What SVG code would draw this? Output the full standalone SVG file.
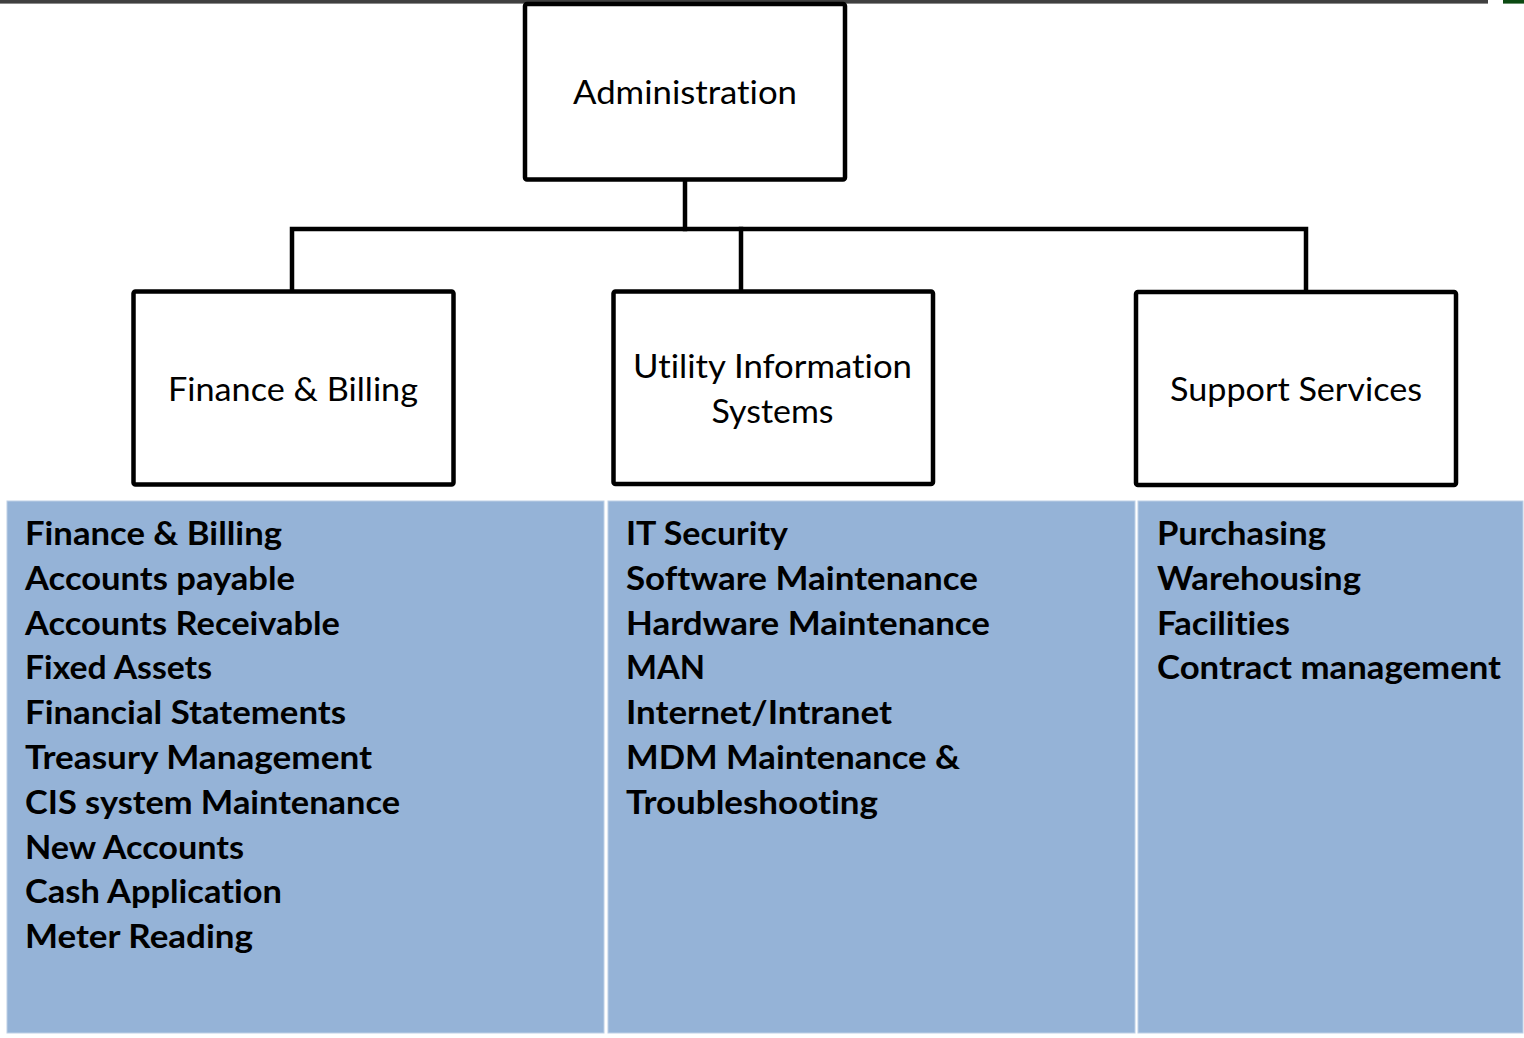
<svg xmlns="http://www.w3.org/2000/svg" width="1524" height="1038" viewBox="0 0 1524 1038">
  <style>
    .box { fill: #ffffff; stroke: #000000; stroke-width: 4.5; }
    .wire { fill: none; stroke: #000000; stroke-width: 4.5; stroke-linecap: square; }
    .title { font-family: Lato, "Liberation Sans", sans-serif; font-size: 32px; fill: #000000; text-anchor: middle; font-variant-ligatures: none; }
    .panel { fill: #95b3d7; stroke: #bdd0e6; stroke-width: 1; }
    .item { font-family: Lato, "Liberation Sans", sans-serif; font-weight: bold; font-size: 32px; fill: #000000; font-variant-ligatures: none; }
  </style>

  <!-- header rule -->
  <rect x="0" y="0" width="1488" height="3.6" fill="#404040"/>
  <rect x="1503" y="0" width="21" height="3.6" fill="#0b4a12"/>

  <!-- duty panels under each department -->
  <g id="panels">
    <rect class="panel" x="7" y="501" width="597" height="532"/>
    <rect class="panel" x="608" y="501" width="527" height="532"/>
    <rect class="panel" x="1138" y="501" width="385" height="532"/>
  </g>

  <!-- org chart connectors -->
  <g id="connectors">
    <path class="wire" d="M685 181 V229"/>
    <path class="wire" d="M292 290 V229 H1306 V290"/>
    <path class="wire" d="M741 229 V290"/>
  </g>

  <g id="node-administration">
    <rect class="box" x="525" y="4" width="320" height="175.5" rx="2"/>
    <text class="title" x="685" y="103.5" textLength="224" lengthAdjust="spacingAndGlyphs">Administration</text>
  </g>

  <g id="node-finance-billing">
    <rect class="box" x="133.5" y="291.5" width="320" height="193" rx="2"/>
    <text class="title" x="293" y="401" textLength="250" lengthAdjust="spacingAndGlyphs">Finance &amp; Billing</text>
  </g>

  <g id="node-utility-information-systems">
    <rect class="box" x="613.5" y="291.5" width="319.5" height="192.5" rx="2"/>
    <text class="title" x="772.5" y="378" textLength="279" lengthAdjust="spacingAndGlyphs">Utility Information</text>
    <text class="title" x="772.5" y="423" textLength="122" lengthAdjust="spacingAndGlyphs">Systems</text>
  </g>

  <g id="node-support-services">
    <rect class="box" x="1136" y="292" width="320" height="193" rx="2"/>
    <text class="title" x="1296" y="401" textLength="252" lengthAdjust="spacingAndGlyphs">Support Services</text>
  </g>

  <!-- duty lists -->
  <g id="list-finance-billing">
    <text class="item" x="25" y="545" textLength="257" lengthAdjust="spacingAndGlyphs">Finance &amp; Billing</text>
    <text class="item" x="25" y="589.8" textLength="270" lengthAdjust="spacingAndGlyphs">Accounts payable</text>
    <text class="item" x="25" y="634.6" textLength="315" lengthAdjust="spacingAndGlyphs">Accounts Receivable</text>
    <text class="item" x="25" y="679.4" textLength="187" lengthAdjust="spacingAndGlyphs">Fixed Assets</text>
    <text class="item" x="25" y="724.2" textLength="321" lengthAdjust="spacingAndGlyphs">Financial Statements</text>
    <text class="item" x="25" y="769" textLength="347" lengthAdjust="spacingAndGlyphs">Treasury Management</text>
    <text class="item" x="25" y="813.8" textLength="375" lengthAdjust="spacingAndGlyphs">CIS system Maintenance</text>
    <text class="item" x="25" y="858.6" textLength="219" lengthAdjust="spacingAndGlyphs">New Accounts</text>
    <text class="item" x="25" y="903.4" textLength="257" lengthAdjust="spacingAndGlyphs">Cash Application</text>
    <text class="item" x="25" y="948.2" textLength="228" lengthAdjust="spacingAndGlyphs">Meter Reading</text>
  </g>

  <g id="list-utility-information-systems">
    <text class="item" x="626" y="545" textLength="162" lengthAdjust="spacingAndGlyphs">IT Security</text>
    <text class="item" x="626" y="589.8" textLength="352" lengthAdjust="spacingAndGlyphs">Software Maintenance</text>
    <text class="item" x="626" y="634.6" textLength="364" lengthAdjust="spacingAndGlyphs">Hardware Maintenance</text>
    <text class="item" x="626" y="679.4" textLength="79" lengthAdjust="spacingAndGlyphs">MAN</text>
    <text class="item" x="626" y="724.2" textLength="266" lengthAdjust="spacingAndGlyphs">Internet/Intranet</text>
    <text class="item" x="626" y="769" textLength="334" lengthAdjust="spacingAndGlyphs">MDM Maintenance &amp;</text>
    <text class="item" x="626" y="813.8" textLength="252" lengthAdjust="spacingAndGlyphs">Troubleshooting</text>
  </g>

  <g id="list-support-services">
    <text class="item" x="1157" y="545" textLength="169" lengthAdjust="spacingAndGlyphs">Purchasing</text>
    <text class="item" x="1157" y="589.8" textLength="204" lengthAdjust="spacingAndGlyphs">Warehousing</text>
    <text class="item" x="1157" y="634.6" textLength="133" lengthAdjust="spacingAndGlyphs">Facilities</text>
    <text class="item" x="1157" y="679.4" textLength="344" lengthAdjust="spacingAndGlyphs">Contract management</text>
  </g>
</svg>
